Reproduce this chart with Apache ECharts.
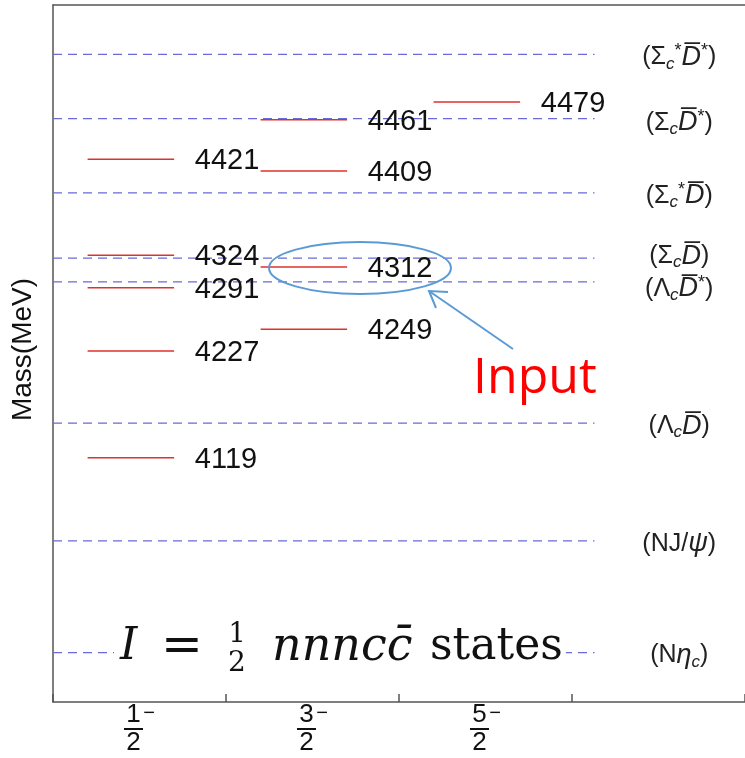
<!DOCTYPE html>
<html>
<head>
<meta charset="utf-8">
<script src="https://cdn.jsdelivr.net/npm/echarts@6/dist/echarts.min.js"></script>
<style>
html, body { margin: 0; padding: 0; background: #fff; }
#main { width: 745px; height: 758px; }
</style>
</head>
<body>
<div id="main"></div>
<script>
// spin-parity columns (x axis), numerators of J = n/2
var spinNum = ['1', '3', '5', ''];

// predicted states: column index and mass (MeV)
var levelCol  = [0, 0, 0, 0, 0, 1, 1, 1, 1, 2];
var levelMass = [4119, 4227, 4291, 4324, 4421, 4249, 4312, 4409, 4461, 4479];

// meson-baryon thresholds (MeV)
var thrMass  = [3922, 4035, 4154, 4297, 4321, 4387, 4462, 4527];
var thrLabel = [
    '(N{it|η}{sub|c})',
    '(NJ/{it|ψ})',
    '(Λ{sub|c}{it|D\u0305})',
    '(Λ{sub|c}{it|D\u0305}{sup|*})',
    '(Σ{sub|c}{it|D\u0305})',
    '(Σ{sub|c}{sup|*}{it|D\u0305})',
    '(Σ{sub|c}{it|D\u0305}{sup|*})',
    '(Σ{sub|c}{sup|*}{it|D\u0305}{sup|*})'
];
var thrShift = [3, 3, 3, 7, -2, 3, 4, 3];

var levelData = levelCol.map(function (c, i) { return [c, levelMass[i]]; });
var thrData = thrMass.map(function (m, i) { return [0, m, i]; });

var myChart = echarts.init(document.getElementById('main'));

var labelFont = 'Liberation Sans, Arial, sans-serif';
var serif = 'DejaVu Serif';

var option = {
    animation: false,
    grid: { left: 53, right: 0, top: 5, bottom: 56 },
    xAxis: [{
        type: 'value', min: 0, max: 4, interval: 1,
        axisLine: { lineStyle: { color: '#555', width: 1.5 } },
        axisTick: { inside: true, length: 8, lineStyle: { color: '#555', width: 1.5 } },
        axisLabel: { show: false },
        splitLine: { show: false }
    }, {
        type: 'category', data: spinNum, position: 'bottom', boundaryGap: true,
        axisLine: { show: false }, axisTick: { show: false },
        axisLabel: {
            margin: 1,
            formatter: function (v) {
                if (!v) return '';
                return '{n|' + v + '}{s|\u2212}\n{bar|}{g|}\n{n|2}{g|}';
            },
            rich: {
                n: { fontSize: 26, fontFamily: labelFont, color: '#111', lineHeight: 24, width: 19, align: 'center' },
                s: { fontSize: 20, fontFamily: labelFont, color: '#111', width: 12, align: 'right', verticalAlign: 'top', lineHeight: 20 },
                bar: { width: 19, height: 2, backgroundColor: '#111', lineHeight: 4 },
                g: { width: 12, height: 2, lineHeight: 4 }
            }
        }
    }, {
        type: 'value', min: 0, max: 4, position: 'top',
        axisLine: { lineStyle: { color: '#555', width: 1.5 } },
        axisTick: { show: false }, axisLabel: { show: false }, splitLine: { show: false }
    }],
    yAxis: {
        type: 'value', min: 3872, max: 4577,
        name: 'Mass(MeV)', nameLocation: 'middle', nameGap: 16,
        nameTextStyle: { fontSize: 28, fontFamily: labelFont, color: '#111', padding: [0, 0, 0, 8] },
        axisLine: { lineStyle: { color: '#555', width: 1.5 } },
        axisTick: { show: false }, axisLabel: { show: false }, splitLine: { show: false }
    },
    series: [{
        // thresholds: dashed lines + labels
        type: 'custom', xAxisIndex: 0, yAxisIndex: 0, data: thrData, z: 2,
        renderItem: function (params, api) {
            var m = api.value(1), i = api.value(2);
            var p1 = api.coord([0, m]), p2 = api.coord([3.13, m]), pt = api.coord([3.62, m]);
            return {
                type: 'group',
                children: [{
                    type: 'line',
                    shape: { x1: p1[0], y1: p1[1], x2: p2[0], y2: p2[1] },
                    style: { stroke: '#6a6ad8', lineWidth: 1.3, lineDash: [9, 6] }
                }, {
                    type: 'text', x: pt[0], y: pt[1] + thrShift[i],
                    style: {
                        text: thrLabel[i], align: 'center', verticalAlign: 'middle',
                        fontSize: 25, fontFamily: labelFont, fill: '#222',
                        rich: {
                            it: { fontSize: 27, fontStyle: 'italic', fontFamily: labelFont, lineHeight: 30 },
                            sub: { fontSize: 17, fontStyle: 'italic', verticalAlign: 'bottom', lineHeight: 26 },
                            sup: { fontSize: 18, verticalAlign: 'top', lineHeight: 26 }
                        }
                    }
                }]
            };
        }
    }, {
        // predicted states: red levels + mass labels
        type: 'custom', xAxisIndex: 0, yAxisIndex: 0, data: levelData, z: 3,
        renderItem: function (params, api) {
            var c = api.value(0), m = api.value(1);
            var p1 = api.coord([c + 0.2, m]), p2 = api.coord([c + 0.7, m]), pt = api.coord([c + 0.82, m]);
            return {
                type: 'group',
                children: [{
                    type: 'line',
                    shape: { x1: p1[0], y1: p1[1], x2: p2[0], y2: p2[1] },
                    style: { stroke: '#e0302c', lineWidth: 1.5 }
                }, {
                    type: 'text', x: pt[0], y: pt[1] + 2,
                    style: {
                        text: String(m), align: 'left', verticalAlign: 'middle',
                        fontSize: 29, fontFamily: labelFont, fill: '#111'
                    }
                }]
            };
        }
    }],
    graphic: [
        { type: 'rect', shape: { x: 114, y: 622, width: 452, height: 58 }, style: { fill: '#fff' }, z: 10 },
        { type: 'text', x: 120, y: 648, z: 11,
          style: { text: 'I', verticalAlign: 'middle', fontSize: 44, fontStyle: 'italic', fontFamily: serif, fill: '#111' } },
        { type: 'text', x: 161, y: 648, z: 11,
          style: { text: '=', verticalAlign: 'middle', fontSize: 50, fontFamily: serif, fill: '#111' } },
        { type: 'text', x: 237, y: 635, z: 11,
          style: { text: '1', align: 'center', verticalAlign: 'middle', fontSize: 27, fontFamily: serif, fill: '#111' } },
        { type: 'text', x: 237, y: 664, z: 11,
          style: { text: '2', align: 'center', verticalAlign: 'middle', fontSize: 28, fontFamily: serif, fill: '#111' } },
        { type: 'text', x: 272, y: 648, z: 11,
          style: { text: 'nnncc\u0304', verticalAlign: 'middle', fontSize: 46, fontStyle: 'italic', fontFamily: serif, fill: '#111' } },
        { type: 'text', x: 430, y: 648, z: 11,
          style: { text: 'states', verticalAlign: 'middle', fontSize: 44, fontFamily: serif, fill: '#111' } },
        { type: 'ellipse', shape: { cx: 360, cy: 268, rx: 91, ry: 26 }, style: { fill: 'none', stroke: '#5b9bd5', lineWidth: 2 }, z: 12 },
        { type: 'line', shape: { x1: 513, y1: 349, x2: 429, y2: 291 }, style: { stroke: '#5b9bd5', lineWidth: 2 }, z: 12 },
        { type: 'polyline', shape: { points: [[436, 308], [429, 291], [448, 292]] }, style: { fill: 'none', stroke: '#5b9bd5', lineWidth: 2 }, z: 12 },
        { type: 'text', x: 473, y: 379, z: 12,
          style: { text: 'Input', verticalAlign: 'middle', fontSize: 50, fontFamily: 'Open Sans', fill: '#ff0000' } }
    ]
};

myChart.setOption(option);
</script>
</body>
</html>
